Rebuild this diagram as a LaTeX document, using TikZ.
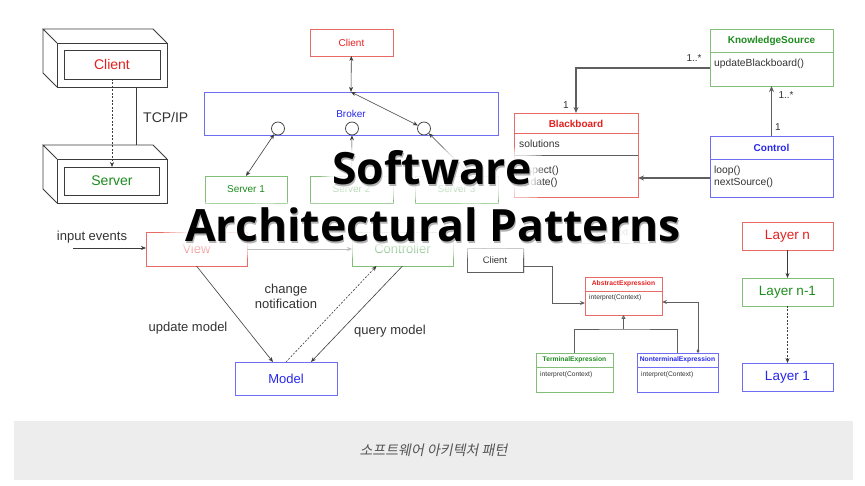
\documentclass[tikz,border=0pt]{standalone}
\usepackage{fontspec}
\setmainfont{Liberation Sans}
\newfontfamily\titlefont{Open Sans}
\newfontfamily\glowwide{Open Sans}[BoldFeatures={FakeBold=30}]
\newfontfamily\glowmid{Open Sans}[BoldFeatures={FakeBold=18}]
\newfontfamily\glownear{Open Sans}[BoldFeatures={FakeBold=8}]
\newfontfamily\krfont{Noto Sans CJK KR}[FakeSlant=0.2]
\usetikzlibrary{arrows.meta, positioning, shadows}

\definecolor{redtxt}{RGB}{228,32,32}
\definecolor{redline}{RGB}{234,107,102}
\definecolor{greentxt}{RGB}{30,140,30}
\definecolor{greenline}{RGB}{130,190,120}
\definecolor{bluetxt}{RGB}{40,40,235}
\definecolor{blueline}{RGB}{110,110,245}
\definecolor{txtgray}{RGB}{51,51,51}
\definecolor{linegray}{RGB}{60,60,60}
\definecolor{umlgray}{RGB}{95,95,95}
\definecolor{capbg}{RGB}{237,237,237}
\definecolor{capgray}{RGB}{85,85,85}

\begin{document}
\begin{tikzpicture}[x=1pt, y=-1pt,
    box/.style={rectangle, inner sep=0pt, outer sep=0pt, line width=0.8pt},
    redbox/.style={box, draw=redline, text=redtxt},
    greenbox/.style={box, draw=greenline, text=greentxt},
    bluebox/.style={box, draw=blueline, text=bluetxt},
    clstitle/.style={inner sep=0pt, font=\bfseries\fontsize{10}{12}\selectfont},
    member/.style={inner sep=0pt, anchor=west, text=txtgray, font=\fontsize{10.3}{12}\selectfont},
    lbl/.style={inner sep=0pt, text=txtgray},
    arrow/.style={-{Stealth[length=5pt,width=4pt]}, draw=linegray, line width=0.6pt},
    biarrow/.style={{Stealth[length=5pt,width=4pt]}-{Stealth[length=5pt,width=4pt]}, draw=linegray, line width=0.6pt},
    dotarrow/.style={arrow, dash pattern=on 2pt off 1.5pt},
    umlarrow/.style={-{Stealth[length=6pt,width=5pt]}, draw=umlgray, line width=1.2pt},
    titletext/.style={font=\titlefont\bfseries\fontsize{44.5}{52}\selectfont, inner sep=0pt, anchor=base},
    glowtext/.style={inner sep=0pt, anchor=base, text=white},
    haze/.style={fill=white, opacity=0.3, rounded corners=12pt, inner sep=0pt}
]
\fill[white] (0,0) rectangle (865,486);
\useasboundingbox (0,0) rectangle (865,486);

% Client - Server
\node[box, draw=linegray, minimum width=110pt, minimum height=44pt] (cfront) at (112,65) {};
\node[box, draw=linegray, minimum width=110pt, minimum height=44pt] (sfront) at (112,181) {};
\draw[linegray, line width=0.8pt] (cfront.north west) -- ++(-14,-14) coordinate (cback) -- ++(110,0) -- (cfront.north east)
    (cback) -- ++(0,44) -- (cfront.south west);
\draw[linegray, line width=0.8pt] (sfront.north west) -- ++(-14,-14) coordinate (sback) -- ++(110,0) -- (sfront.north east)
    (sback) -- ++(0,44) -- (sfront.south west);
\node[box, draw=linegray, text=redtxt, minimum width=96pt, minimum height=29pt, font=\fontsize{14}{16}\selectfont] (client) at (112,64.5) {Client};
\node[box, draw=linegray, text=greentxt, minimum width=95pt, minimum height=28pt, font=\fontsize{14}{16}\selectfont] (server) at (112,181) {Server};
\draw[dotarrow] (client) -- (server);
\draw[linegray, line width=0.8pt] ([xshift=24pt]cfront.south) -- ([xshift=24pt,yshift=14pt]sfront.north);
\node[lbl, anchor=west, font=\fontsize{14}{16}\selectfont] (tcp) at (143,117) {TCP/IP};

% Broker
\node[redbox, minimum width=83pt, minimum height=27pt, font=\fontsize{10}{12}\selectfont] (bclient) at (351.5,42.5) {Client};
\node[bluebox, minimum width=294pt, minimum height=43pt, font=\fontsize{10}{12}\selectfont] (broker) at (351,113.5) {Broker};
\foreach \i/\x in {1/278, 2/352, 3/424}
    \node[circle, draw=linegray, fill=white, line width=0.7pt, minimum size=13pt, inner sep=0pt] (port\i) at (\x,128.5) {};
\node[greenbox, minimum width=82pt, minimum height=27pt, font=\fontsize{10}{12}\selectfont] (srv1) at (246,189.5) {Server 1};
\node[greenbox, minimum width=83pt, minimum height=27pt, font=\fontsize{10}{12}\selectfont] (srv2) at (351.5,189.5) {Server 2};
\node[greenbox, minimum width=83pt, minimum height=27pt, font=\fontsize{10}{12}\selectfont] (srv3) at (456.5,189.5) {Server 3};
\draw[biarrow] (bclient) -- (broker.north);
\draw[biarrow] (broker.north) -- (port3);
\draw[biarrow] (srv1.north) -- (port1);
\draw[arrow] (srv2) -- (port2);
\draw[arrow] ([xshift=15pt]srv3.north) -- (port3);

% Blackboard
\node[box, draw=greenline, minimum width=123pt, minimum height=57pt] (ks) at (771.5,57.5) {};
\draw[greenline, line width=0.8pt] (ks.west |- 0,52) -- (ks.east |- 0,52);
\node[clstitle, text=greentxt] (ksname) at (771.5,41) {KnowledgeSource};
\node[member] (ksop) at (714,64) {updateBlackboard()};
\node[box, draw=redline, minimum width=124pt, minimum height=84pt] (bb) at (576,155) {};
\draw[redline, line width=0.8pt] (bb.west |- 0,133) -- (bb.east |- 0,133);
\draw[umlgray, line width=1pt] (bb.west |- 0,156) -- (bb.east |- 0,156);
\node[clstitle, text=redtxt] (bbname) at (576,124) {Blackboard};
\node[member] (bbattr) at (519,144) {solutions};
\node[member] (bbop1) at (519,171) {inspect()};
\node[member] (bbop2) at (519,183) {update()};
\node[box, draw=blueline, minimum width=123pt, minimum height=61pt] (ctrl) at (771.5,166.5) {};
\draw[blueline, line width=0.8pt] (ctrl.west |- 0,159) -- (ctrl.east |- 0,159);
\node[clstitle, text=bluetxt] (ctrlname) at (771.5,148) {Control};
\node[member] (ctrlop1) at (714,171) {loop()};
\node[member] (ctrlop2) at (714,183) {nextSource()};
\draw[umlarrow] ([yshift=-10.5pt]ks.west) -| (bb.north);
\draw[umlarrow] (ctrl.north) -- (ks.south);
\draw[umlarrow] ([yshift=-11.5pt]ctrl.west) -- ([yshift=-11.5pt]ctrl.west -| bb.east);
\node[lbl, font=\fontsize{10}{12}\selectfont] (m1) at (694,58) {1..*};
\node[lbl, font=\fontsize{10}{12}\selectfont] (m2) at (566,105) {1};
\node[lbl, font=\fontsize{10}{12}\selectfont] (m3) at (786,95) {1..*};
\node[lbl, font=\fontsize{10}{12}\selectfont] (m4) at (778,127) {1};

% Model - View - Controller
\node[redbox, minimum width=101pt, minimum height=34pt, font=\fontsize{13}{15}\selectfont] (view) at (196.5,249) {View};
\node[greenbox, minimum width=101pt, minimum height=34pt, font=\fontsize{13}{15}\selectfont] (controller) at (402.5,249) {Controller};
\node[bluebox, minimum width=102pt, minimum height=33pt, font=\fontsize{13}{15}\selectfont] (model) at (286,378.5) {Model};
\node[lbl, font=\fontsize{13}{15}\selectfont] (input) at (92,237) {input events};
\coordinate (inputstart) at (73,248);
\draw[arrow] (inputstart) -- (view.west |- inputstart);
\draw[arrow] (view) -- (controller);
\draw[arrow] (view.south) -- ([xshift=-13pt]model.north);
\draw[arrow] (controller.south) -- ([xshift=25pt]model.north);
\draw[dotarrow] (model.north) -- ([xshift=-26pt]controller.south);
\node[lbl, font=\fontsize{13}{15}\selectfont] (upd) at (188,328) {update model};
\node[lbl, align=center, font=\fontsize{13}{15}\selectfont] (chg) at (286,296) {change\\notification};
\node[lbl, font=\fontsize{13}{15}\selectfont] (qry) at (390,331) {query model};

% Interpreter
\node[box, draw=umlgray!60, text=umlgray!60, minimum width=80pt, minimum height=21pt, font=\fontsize{9.5}{11}\selectfont] (context) at (612,232.5) {Context};
\node[box, draw=umlgray, fill=white, line width=0.9pt, minimum width=56pt, minimum height=24pt, font=\fontsize{9.5}{11}\selectfont, text=txtgray,
    drop shadow={opacity=0.25, shadow xshift=1.5pt, shadow yshift=-1.5pt}] (iclient) at (495,260) {Client};
\node[box, draw=redline, minimum width=77pt, minimum height=38pt] (absexp) at (623.5,296) {};
\draw[redline, line width=0.8pt] (absexp.west |- 0,291) -- (absexp.east |- 0,291);
\node[inner sep=0pt, text=redtxt, font=\bfseries\fontsize{6.7}{8}\selectfont] (absname) at (623.5,284) {AbstractExpression};
\node[member, font=\fontsize{6.7}{8}\selectfont] (absop) at (589,298) {interpret(Context)};
\node[box, draw=greenline, minimum width=77pt, minimum height=39pt] (termexp) at (574.5,372.5) {};
\draw[greenline, line width=0.8pt] (termexp.west |- 0,367) -- (termexp.east |- 0,367);
\node[inner sep=0pt, text=greentxt, font=\bfseries\fontsize{6.7}{8}\selectfont] (termname) at (574.5,360) {TerminalExpression};
\node[member, font=\fontsize{6.7}{8}\selectfont] (termop) at (540,375) {interpret(Context)};
\node[box, draw=blueline, minimum width=81pt, minimum height=39pt] (ntexp) at (677.5,372.5) {};
\draw[blueline, line width=0.8pt] (ntexp.west |- 0,367) -- (ntexp.east |- 0,367);
\node[inner sep=0pt, text=bluetxt, font=\bfseries\fontsize{6.7}{8}\selectfont] (ntname) at (677.5,360) {NonterminalExpression};
\node[member, font=\fontsize{6.7}{8}\selectfont] (ntop) at (641,375) {interpret(Context)};
\coordinate (joint) at (623.5,329);
\draw[umlgray, line width=0.9pt] (termexp.north) |- (joint) -| (ntexp.north);
\draw[umlgray, line width=0.9pt, -{Triangle[open,length=4pt,width=4pt]}] (joint) -- (absexp.south);
\draw[umlgray, line width=0.9pt, {Diamond[length=4pt,width=3pt]}-{Stealth[length=5pt,width=4pt]}] ([xshift=20.5pt]ntexp.north) |- ([yshift=-6pt]absexp.east);
\draw[umlgray, line width=0.9pt, -{Stealth[length=5pt,width=4pt]}] ([yshift=-6pt]iclient.east) -- ++(29,0) |- ([yshift=-7pt]absexp.west);

% Layers
\node[redbox, minimum width=91pt, minimum height=28pt, font=\fontsize{13.5}{16}\selectfont] (layern) at (787.5,236) {Layer n};
\node[greenbox, minimum width=91pt, minimum height=28pt, font=\fontsize{13.5}{16}\selectfont] (layerm) at (787.5,292) {Layer n-1};
\node[bluebox, minimum width=91pt, minimum height=28pt, font=\fontsize{13.5}{16}\selectfont] (layer1) at (787.5,377) {Layer 1};
\draw[arrow] (layern) -- (layerm);
\draw[dotarrow] (layerm) -- (layer1);

% Title with glow
\foreach \w/\h [count=\k] in {205/44, 213/48, 221/52}
    \node[haze, minimum width=\w pt, minimum height=\h pt] (hazeup\k) at (432,174) {};
\foreach \w/\h [count=\k] in {515/44, 527/50, 539/56}
    \node[haze, minimum width=\w pt, minimum height=\h pt] (hazelow\k) at (433,230) {};
\node[glowtext, opacity=0.3, font=\glowwide\bfseries\fontsize{44.5}{52}\selectfont] (glow1a) at (432,185) {Software};
\node[glowtext, opacity=0.3, font=\glowwide\bfseries\fontsize{44.5}{52}\selectfont] (glow2a) at (433,242) {Architectural Patterns};
\node[glowtext, opacity=0.4, font=\glowmid\bfseries\fontsize{44.5}{52}\selectfont] (glow1b) at (432,185) {Software};
\node[glowtext, opacity=0.4, font=\glowmid\bfseries\fontsize{44.5}{52}\selectfont] (glow2b) at (433,242) {Architectural Patterns};
\node[glowtext, opacity=0.5, font=\glownear\bfseries\fontsize{44.5}{52}\selectfont] (glow1c) at (432,185) {Software};
\node[glowtext, opacity=0.5, font=\glownear\bfseries\fontsize{44.5}{52}\selectfont] (glow2c) at (433,242) {Architectural Patterns};
\node[titletext, text=black, opacity=0.3, shift={(1pt,-1.5pt)}] (shadow1) at (432,185) {Software};
\node[titletext, text=black, opacity=0.3, shift={(1pt,-1.5pt)}] (shadow2) at (433,242) {Architectural Patterns};
\node[titletext, text=black] (title1) at (432,185) {Software};
\node[titletext, text=black] (title2) at (433,242) {Architectural Patterns};

% Caption
\node[fill=capbg, minimum width=839pt, minimum height=59pt, inner sep=0pt, text=capgray,
    font=\krfont\fontsize{14}{16}\selectfont] (caption) at (433.5,450.5) {소프트웨어 아키텍처 패턴};
\end{tikzpicture}
\end{document}
